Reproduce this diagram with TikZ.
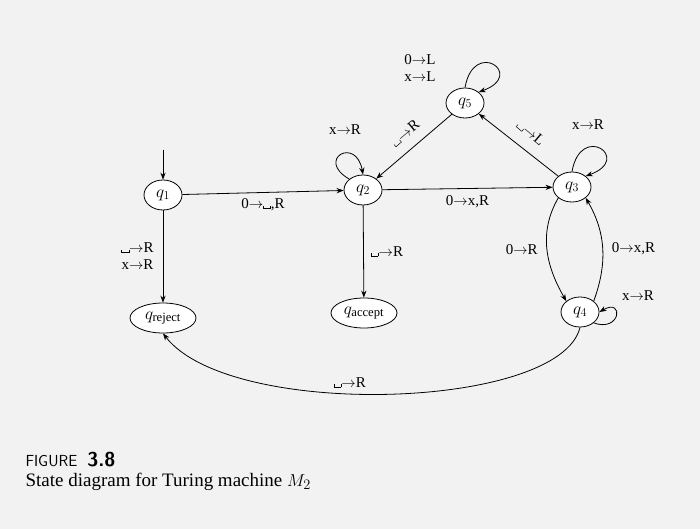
\documentclass[tikz,border=0pt]{standalone}
\usepackage{fontspec}
\setmainfont{Liberation Serif}
\usetikzlibrary{arrows.meta,shapes.geometric}
\newcommand\blk{\hbox{\vrule height .45ex width .07ex\vrule height .07ex width .45em\vrule height .45ex width .07ex}}
\newcommand\ar{$\rightarrow$}
\begin{document}
\begin{tikzpicture}[x=1pt,y=-1pt,
  st/.style={ellipse,draw,thick,fill=white,minimum width=38pt,minimum height=30pt,inner sep=1pt,font=\fontsize{18}{18}\selectfont},
  wst/.style={st,minimum width=66pt},
  lbl/.style={font=\fontsize{15}{17}\selectfont,inner sep=1pt,align=center},
  ed/.style={-{Stealth[length=7pt]},thick}]
\fill[gray!10] (0,0) rectangle (700,529);
\node[st] (q1) at (163,195) {$q_1$};
\node[st] (q2) at (363,190) {$q_2$};
\node[st] (q5) at (465,103) {$q_5$};
\node[st] (q3) at (572,187) {$q_3$};
\node[st] (q4) at (580,312) {$q_4$};
\node[wst] (qr) at (163,318) {$q_{\mathrm{reject}}$};
\node[wst] (qa) at (364,313) {$q_{\mathrm{accept}}$};
\coordinate (s) at (163,150);
\draw[ed] (s) -- (q1);
\draw[ed] (q1) -- node[lbl,below=5pt]{0\ar\blk,R} (q2);
\draw[ed] (q2.north west) to[out=150,in=100,looseness=7] (q2.north);
\node[lbl] (l2) at (345,130) {x\ar R};
\draw[ed] (q5.north) to[out=80,in=20,looseness=9] (q5.north east);
\node[lbl,align=center] (l5) at (420,68) {0\ar L\\x\ar L};
\draw[ed] (q5) -- (q2);
\node[lbl,rotate=40] (l52) at (405,133) {\blk\ar R};
\draw[ed] (q3) -- (q5);
\node[lbl,rotate=-40] (l35) at (531,133) {\blk\ar L};
\draw[ed] (q2) -- node[lbl,below=6pt]{0\ar x,R} (q3);
\draw[ed] (q3.north) to[out=80,in=20,looseness=9] (q3.north east);
\node[lbl] (l3) at (588,125) {x\ar R};
\draw[ed] (q3.south west) to[out=-120,in=120] node[lbl,left=8pt]{0\ar R} (q4.north west);
\draw[ed] (q4.north east) to[out=70,in=-60] node[lbl,right=8pt]{0\ar x,R} (q3.south east);
\draw[ed] (q4.south east) to[out=-20,in=30,looseness=6] (q4.east);
\node[lbl] (l4) at (638,296) {x\ar R};
\draw[ed] (q1) -- node[lbl,left=8pt]{\blk\ar R\\x\ar R} (qr);
\draw[ed] (q2) -- node[lbl,right=6pt]{\blk\ar R} (qa);
\draw[ed] (q4.south) .. controls (560,410) and (230,420) .. node[lbl,above=5pt,pos=0.57]{\blk\ar R} (qr.south);
\node[anchor=west,font=\fontsize{16}{18}\sffamily] (fig) at (22,460) {FIGURE\ \ \textbf{\fontsize{20}{20}\selectfont 3.8}};
\node[anchor=west,font=\fontsize{19}{21}\selectfont] (cap) at (22,482) {State diagram for Turing machine $M_2$};
\end{tikzpicture}
\end{document}
